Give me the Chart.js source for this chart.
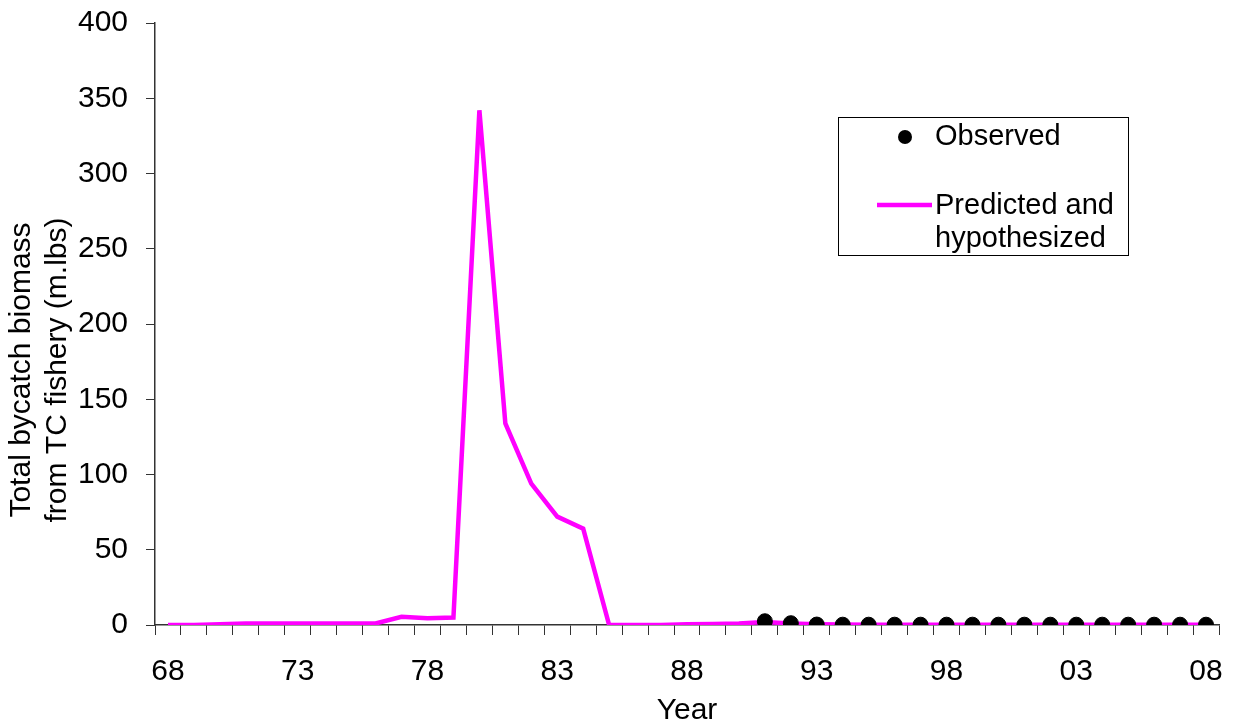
<!DOCTYPE html>
<html>
<head>
<meta charset="utf-8">
<script src="https://cdn.jsdelivr.net/npm/chart.js@4/dist/chart.umd.min.js"></script>
<style>
  html, body { margin: 0; padding: 0; background: #fff; }
  #wrap { width: 1235px; height: 723px; position: relative; }
</style>
</head>
<body>
<div id="wrap"><canvas id="bycatchChart"></canvas></div>
<script>
// Years 1968-2008, shown as two-digit labels
const years = ["68","69","70","71","72","73","74","75","76","77","78","79","80","81","82","83","84","85","86","87","88",
  "89","90","91","92","93","94","95","96","97","98","99","00","01","02","03","04","05","06","07","08"];

// Predicted and hypothesized bycatch (m.lbs)
const predicted = [0, 0, 0.5, 1, 1, 1, 1, 1, 1, 5.5, 4.5, 5, 342, 134, 94, 72, 64, 0, 0, 0, 0.5,
  0.7, 1, 2, 1, 0.5, 0.3, 0.2, 0.2, 0.2, 0.2, 0.2, 0.2, 0.2, 0.2, 0.2, 0.2, 0.2, 0.2, 0.2, 0.2];

// Observed bycatch (only from 1991 on)
const observed = [null, null, null, null, null, null, null, null, null, null, null, null, null, null, null, null, null, null, null, null, null,
  null, null, 2.5, 1.2, 0.3, 0.2, 0.2, 0.2, 0.2, 0.2, 0.2, 0.2, 0.2, 0.2, 0.2, 0.2, 0.2, 0.2, 0.2, 0.2];

const yTicks = [0, 50, 100, 150, 200, 250, 300, 350, 400];
const yTitle = ["Total bycatch biomass", "from TC fishery (m.lbs)"];

const FONT = "'Liberation Sans', Arial, sans-serif";
const AXIS = "#333";

// Boxed legend and the y title, drawn like the original figure
const extras = {
  id: "extras",
  afterDraw(chart) {
    const ctx = chart.ctx;
    ctx.save();

    // y axis title (sits a bit below the plot centre in the original)
    ctx.fillStyle = "#000";
    ctx.font = "30px " + FONT;
    ctx.textAlign = "center";
    ctx.textBaseline = "middle";
    ctx.translate(0, 370);
    ctx.rotate(-Math.PI / 2);
    ctx.fillText(yTitle[0], 0, 22);
    ctx.fillText(yTitle[1], 0, 58);
    ctx.setTransform(1, 0, 0, 1, 0, 0);

    // legend box
    ctx.strokeStyle = "#000";
    ctx.lineWidth = 1;
    ctx.strokeRect(838.5, 117.5, 290, 138);

    ctx.fillStyle = "#000";
    ctx.beginPath();
    ctx.arc(905, 137, 7, 0, Math.PI * 2);
    ctx.fill();

    ctx.strokeStyle = "#ff00ff";
    ctx.lineWidth = 4.5;
    ctx.beginPath();
    ctx.moveTo(877, 205);
    ctx.lineTo(932, 205);
    ctx.stroke();

    ctx.fillStyle = "#000";
    ctx.font = "29px " + FONT;
    ctx.textBaseline = "middle";
    ctx.textAlign = "left";
    ctx.fillText("Observed", 935, 137);
    ctx.fillText("Predicted and", 935, 206);
    ctx.fillText("hypothesized", 935, 239);
    ctx.restore();
  }
};

const ctx1 = document.getElementById("bycatchChart").getContext("2d");

const bycatchChart = new Chart(ctx1, {
  type: "line",
  data: {
    labels: years,
    datasets: [
      {
        label: "Observed",
        data: observed,
        showLine: false,
        pointRadius: 7.5,
        pointBackgroundColor: "#000",
        pointBorderColor: "#000",
        order: 0
      },
      {
        label: "Predicted and hypothesized",
        data: predicted,
        borderColor: "#ff00ff",
        borderWidth: 4.5,
        pointRadius: 0,
        tension: 0,
        order: 1
      }
    ]
  },
  plugins: [extras],
  options: {
    responsive: true,
    maintainAspectRatio: false,
    animation: false,
    layout: { padding: { top: 23, right: 16, left: 0, bottom: 0 } },
    plugins: {
      legend: { display: false },
      tooltip: { enabled: false }
    },
    scales: {
      x: {
        offset: true,
        afterFit: function (axis) {
          axis.height = 98;
          axis.paddingLeft = 0;
          axis.paddingRight = 0;
        },
        grid: { offset: true, drawOnChartArea: false, drawTicks: true, tickLength: 10, color: AXIS },
        border: { color: AXIS, width: 1.5 },
        ticks: {
          autoSkip: false,
          maxRotation: 0,
          color: "#000",
          font: { family: FONT, size: 30 },
          padding: 19,
          callback: function (val, i) { return i % 5 === 0 ? years[i] : ""; }
        },
        title: {
          display: true,
          text: "Year",
          color: "#000",
          font: { family: FONT, size: 30 },
          padding: { top: 0, bottom: -6 }
        }
      },
      y: {
        min: 0,
        max: 400,
        afterFit: function (axis) {
          axis.width = 155;
          axis.paddingTop = 0;
          axis.paddingBottom = 0;
        },
        afterBuildTicks: function (axis) { axis.ticks = yTicks.map(v => ({ value: v })); },
        grid: { drawOnChartArea: false, drawTicks: true, tickLength: 9, color: AXIS },
        border: { color: AXIS, width: 1.5 },
        ticks: {
          color: "#000",
          font: { family: FONT, size: 30 },
          padding: 18
        }
      }
    }
  }
});
</script>
</body>
</html>
